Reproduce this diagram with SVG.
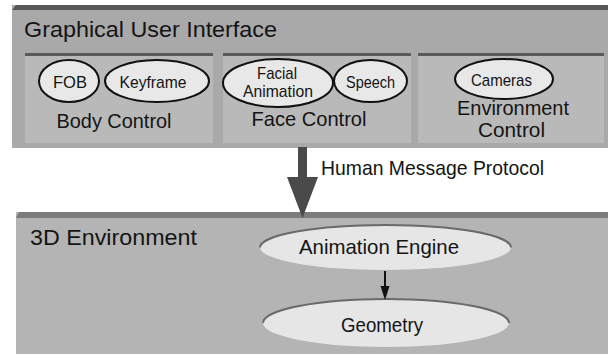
<svg xmlns="http://www.w3.org/2000/svg" width="608" height="354" viewBox="0 0 608 354">
  <style>
    text { font-family: "Liberation Sans", Arial, sans-serif; fill: #141414; }
    .outer { fill: #a9a9a9; }
    .inner { fill: #b9b9b9; }
    .bar { fill: #585858; }
    .ibar { fill: #5a5a5a; }
    .oval { fill: #e8e8e8; stroke: #111; stroke-width: 2; }
    .soft { fill: #e6e6e6; }
    .rim { fill: none; stroke: #6a6a6a; stroke-width: 2; }
    .big { font-size: 22px; }
    .mid { font-size: 21px; }
    .small { font-size: 17px; }
  </style>

  <g id="gui">
    <rect class="outer" x="12" y="5" width="596" height="143"/>
    <polygon class="bar" points="12,10 16,5 608,5 608,10"/>
    <text class="big" x="24" y="37" textLength="253" lengthAdjust="spacingAndGlyphs">Graphical User Interface</text>
  </g>

  <g id="body-control">
    <rect class="inner" x="25" y="53" width="188" height="90"/>
    <rect class="ibar" x="25" y="53" width="188" height="3"/>
    <text class="mid" x="114" y="128" text-anchor="middle" textLength="115" lengthAdjust="spacingAndGlyphs">Body Control</text>
  </g>
  <g id="fob">
    <ellipse class="oval" cx="69" cy="81" rx="30" ry="21"/>
    <text class="small" x="70" y="88" text-anchor="middle" textLength="34" lengthAdjust="spacingAndGlyphs">FOB</text>
  </g>
  <g id="keyframe">
    <ellipse class="oval" cx="157" cy="81" rx="52" ry="21"/>
    <text class="small" x="153" y="88" text-anchor="middle" textLength="67" lengthAdjust="spacingAndGlyphs">Keyframe</text>
  </g>

  <g id="face-control">
    <rect class="inner" x="223" y="53" width="188" height="90"/>
    <rect class="ibar" x="223" y="53" width="188" height="3"/>
    <text class="mid" x="309" y="126" text-anchor="middle" textLength="115" lengthAdjust="spacingAndGlyphs">Face Control</text>
  </g>
  <g id="facial-animation">
    <ellipse class="oval" cx="278" cy="83" rx="55" ry="24"/>
    <text class="small" x="277" y="79" text-anchor="middle" textLength="40" lengthAdjust="spacingAndGlyphs">Facial</text>
    <text class="small" x="278" y="97" text-anchor="middle" textLength="70" lengthAdjust="spacingAndGlyphs">Animation</text>
  </g>
  <g id="speech">
    <ellipse class="oval" cx="370.5" cy="81" rx="36.5" ry="21"/>
    <text class="small" x="370.5" y="88" text-anchor="middle" textLength="49" lengthAdjust="spacingAndGlyphs">Speech</text>
  </g>

  <g id="environment-control">
    <rect class="inner" x="418" y="53" width="186" height="90"/>
    <rect class="ibar" x="418" y="53" width="186" height="3"/>
    <text class="mid" x="513" y="115" text-anchor="middle" textLength="112" lengthAdjust="spacingAndGlyphs">Environment</text>
    <text class="mid" x="511.5" y="137" text-anchor="middle" textLength="67" lengthAdjust="spacingAndGlyphs">Control</text>
  </g>
  <g id="cameras">
    <ellipse class="oval" cx="504" cy="79" rx="49" ry="20"/>
    <text class="small" x="501.5" y="86" text-anchor="middle" textLength="61" lengthAdjust="spacingAndGlyphs">Cameras</text>
  </g>

  <g id="environment-3d">
    <rect fill="#b4b4b4" x="16" y="212" width="592" height="142"/>
    <polygon fill="#7c7c7c" points="16,218 19,212 608,212 608,218"/>
    <text class="big" x="30" y="245" textLength="167" lengthAdjust="spacingAndGlyphs">3D Environment</text>
  </g>
  <g id="animation-engine">
    <ellipse class="soft" cx="385.5" cy="247.5" rx="125.5" ry="22.5"/>
    <path class="rim" d="M260,247.5 A125.5,22.5 0 0 1 511,247.5"/>
    <text class="mid" x="379" y="254" text-anchor="middle" textLength="160" lengthAdjust="spacingAndGlyphs">Animation Engine</text>
  </g>
  <g id="geometry">
    <ellipse class="soft" cx="386" cy="323" rx="123" ry="24"/>
    <path class="rim" d="M263,323 A123,24 0 0 1 509,323"/>
    <text class="mid" x="382" y="332" text-anchor="middle" textLength="82" lengthAdjust="spacingAndGlyphs">Geometry</text>
  </g>

  <g id="connectors">
    <rect fill="#4a4a4a" x="298" y="147" width="9" height="31"/>
    <polygon fill="#4a4a4a" points="287,177 318,177 302.5,218"/>
    <text class="mid" x="321" y="175" textLength="223" lengthAdjust="spacingAndGlyphs">Human Message Protocol</text>
    <line x1="385" y1="271" x2="385" y2="288" stroke="#111" stroke-width="2"/>
    <polygon fill="#111" points="380.5,286 389.5,286 385,300"/>
  </g>
</svg>
